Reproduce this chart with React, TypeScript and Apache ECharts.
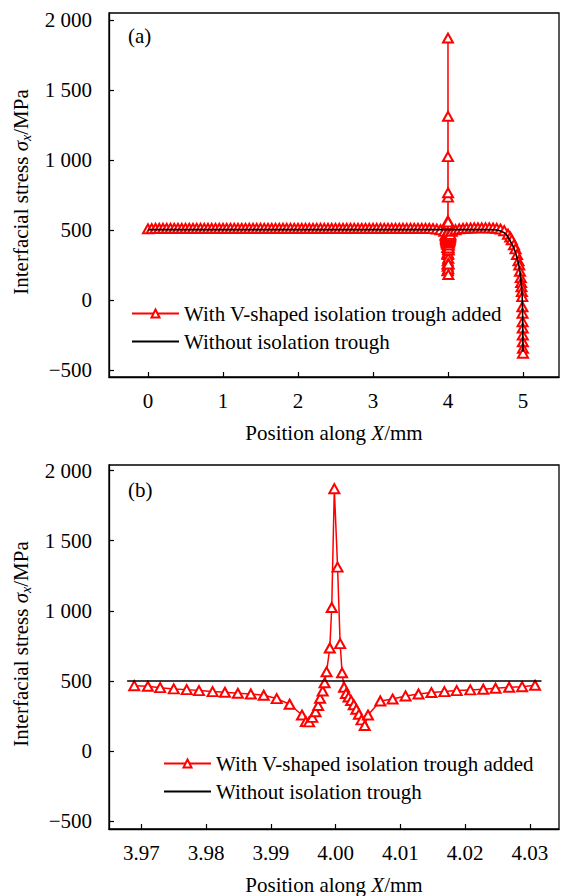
import React, { useEffect, useRef } from 'react';
import * as echarts from 'echarts';

const NAME_WITH = 'With V-shaped isolation trough added';
const NAME_WITHOUT = 'Without isolation trough';

const yTicks = [-500, 0, 500, 1000, 1500, 2000];
const xTicksA = [0, 1, 2, 3, 4, 5];
const xTicksB = [3.97, 3.98, 3.99, 4.0, 4.01, 4.02, 4.03];

// Panel (b): detail around the trough at X = 4 mm
const troughX = [
  3.9689, 3.971, 3.9729, 3.975, 3.977, 3.9789, 3.981, 3.9829, 3.9849, 3.9869,
  3.9889, 3.9909, 3.9929, 3.9948, 3.9954, 3.9959, 3.9964, 3.9969, 3.9973, 3.9976,
  3.998, 3.9983, 3.9986, 3.9991, 3.9994, 3.9998, 4.0003, 4.0007, 4.001, 4.0013,
  4.0016, 4.002, 4.0024, 4.0028, 4.0032, 4.0036, 4.004, 4.0045, 4.005, 4.0069,
  4.0088, 4.0108, 4.0128, 4.0148, 4.0168, 4.0187, 4.0208, 4.0228, 4.0247, 4.0268,
  4.0288, 4.0308,
];
const troughRed = [
  466, 462, 452, 443, 438, 431, 424, 419, 412, 407,
  398, 374, 334, 257, 210, 208, 240, 280, 325, 376,
  428, 487, 565, 735, 1024, 1871, 1312, 766, 558, 455,
  410, 385, 360, 330, 298, 262, 222, 182, 257, 357,
  371, 393, 407, 417, 424, 431, 436, 441, 448, 455,
  459, 469,
];
const troughBlackX = [3.9678, 4.0318];
const troughBlack = [500, 500];

// Panel (a): whole interface 0 - 5 mm
const fullRedLeftX = [
  0, 0.05, 0.1, 0.15, 0.2, 0.25, 0.3, 0.35, 0.4, 0.45, 0.5, 0.55, 0.6, 0.65, 0.7, 0.75,
  0.8, 0.85, 0.9, 0.95, 1.0, 1.05, 1.1, 1.15, 1.2, 1.25, 1.3, 1.35, 1.4, 1.45, 1.5, 1.55,
  1.6, 1.65, 1.7, 1.75, 1.8, 1.85, 1.9, 1.95, 2.0, 2.05, 2.1, 2.15, 2.2, 2.25, 2.3, 2.35,
  2.4, 2.45, 2.5, 2.55, 2.6, 2.65, 2.7, 2.75, 2.8, 2.85, 2.9, 2.95, 3.0, 3.05, 3.1, 3.15,
  3.2, 3.25, 3.3, 3.35, 3.4, 3.45, 3.5, 3.55, 3.6, 3.65, 3.7, 3.75, 3.8, 3.85, 3.9, 3.95,
];
const fullRedLeft = [
  508, 510, 511, 511, 512, 512, 512, 512, 512, 512, 512, 512, 512, 512, 512, 512,
  512, 512, 512, 512, 512, 512, 512, 512, 512, 512, 512, 512, 512, 512, 512, 512,
  512, 512, 512, 512, 512, 512, 512, 512, 512, 512, 512, 512, 512, 512, 512, 512,
  512, 512, 512, 512, 512, 512, 512, 512, 512, 512, 512, 512, 512, 512, 512, 512,
  512, 512, 512, 512, 512, 512, 512, 512, 512, 512, 512, 511, 510, 507, 502, 490,
];
const fullRedRightX = [
  4.05, 4.1, 4.15, 4.2, 4.25, 4.3, 4.35, 4.4, 4.45, 4.5, 4.55, 4.6, 4.65, 4.7, 4.75,
  4.8, 4.83, 4.85, 4.88, 4.9, 4.92, 4.94, 4.95, 4.96, 4.97, 4.975, 4.98, 4.985, 4.99,
  4.992, 4.994, 4.995, 4.996, 4.997, 4.998, 4.999, 5.0,
];
const fullRedRight = [
  490, 502, 508, 511, 513, 514, 515, 515, 515, 515, 515, 514, 512, 507, 495,
  470, 450, 430, 395, 365, 325, 280, 250, 205, 160, 125, 95, 60, 24,
  -48, -95, -155, -200, -250, -298, -345, -380,
];
const fullBlackX = [0, 4.5, 4.6, 4.65, 4.7, 4.75, 4.78, 4.82, 4.87, 4.9, 4.94, 4.96, 4.98, 4.99, 4.995, 5.0];
const fullBlack = [503, 503, 502, 500, 493, 480, 466, 432, 381, 340, 262, 200, 95, 20, -100, -370];

const FONT = "'Times New Roman', 'Liberation Serif', serif";
const FS = 21;
const RED = '#ff0000';

const pairs = (xs: number[], ys: number[]) => xs.map((x, i) => [x, ys[i]]);

const fmtY = (v: number) => {
  const a = Math.abs(v);
  const s = a >= 1000 ? `${Math.floor(a / 1000)} ${String(a % 1000).padStart(3, '0')}` : String(a);
  return v < 0 ? '\u2212' + s : s;
};

const axisCommon = {
  axisLine: { show: true, onZero: false, lineStyle: { color: '#000', width: 1.3 } },
  axisTick: { show: true, inside: true, length: 5, lineStyle: { color: '#000', width: 1.2 } },
  splitLine: { show: false },
};

const yAxisName = (x: number, y: number) => ({
  type: 'text',
  x,
  y,
  rotation: Math.PI / 2,
  silent: true,
  style: {
    text: 'Interfacial stress {i|σ}{sub|x}/MPa',
    align: 'center',
    verticalAlign: 'middle',
    fontFamily: FONT,
    fontSize: FS,
    fill: '#000',
    rich: {
      i: { fontFamily: FONT, fontSize: FS, fontStyle: 'italic', fill: '#000', lineHeight: 24 },
      sub: { fontFamily: FONT, fontSize: 14, fontStyle: 'italic', fill: '#000', lineHeight: 12, verticalAlign: 'bottom' },
    },
  },
});

export default function App() {
  const ref = useRef<HTMLDivElement>(null);
  useEffect(() => {
    document.body.style.margin = '0';
    if (!ref.current) return;
    const chart = echarts.init(ref.current, null, { renderer: 'svg' });
    const redA = [
      ...pairs(fullRedLeftX, fullRedLeft),
      ...pairs(troughX, troughRed),
      ...pairs(fullRedRightX, fullRedRight),
    ];
    const legendCommon = {
      orient: 'vertical',
      itemWidth: 47,
      itemHeight: 10,
      itemGap: 7,
      textStyle: { fontFamily: FONT, fontSize: FS, color: '#000' },
      data: [NAME_WITH, { name: NAME_WITHOUT, itemStyle: { opacity: 0 } }],
      selectedMode: false,
    };
    const redSeries = {
      type: 'line',
      name: NAME_WITH,
      symbol: 'emptyTriangle',
      symbolSize: [10, 9],
      showAllSymbol: true,
      lineStyle: { color: RED, width: 1.5 },
      itemStyle: { color: RED, borderColor: RED, borderWidth: 1.3 },
      z: 2,
    };
    const blackSeries = {
      type: 'line',
      name: NAME_WITHOUT,
      symbol: 'none',
      lineStyle: { color: '#000', width: 1.6 },
      itemStyle: { color: '#000' },
      z: 3,
    };
    const xName = {
      name: 'Position along {i|X}/mm', nameLocation: 'middle', nameGap: 45,
      nameTextStyle: { fontFamily: FONT, fontSize: FS, color: '#000', rich: { i: { fontFamily: FONT, fontSize: FS, fontStyle: 'italic', color: '#000' } } },
    };
    chart.setOption({
      animation: false,
      backgroundColor: '#fff',
      textStyle: { fontFamily: FONT },
      grid: [
        { left: 109, top: 13, width: 450, height: 364, show: true, borderColor: '#000', borderWidth: 1.3, backgroundColor: 'transparent' },
        { left: 109, top: 465, width: 450, height: 364, show: true, borderColor: '#000', borderWidth: 1.3, backgroundColor: 'transparent' },
      ],
      xAxis: [
        {
          type: 'value', gridIndex: 0, min: -0.52, max: 5.48, ...axisCommon,
          axisTick: { ...axisCommon.axisTick, customValues: xTicksA },
          axisLabel: { customValues: xTicksA, fontFamily: FONT, fontSize: FS, color: '#000', margin: 13 },
          ...xName,
        },
        {
          type: 'value', gridIndex: 1, min: 3.965, max: 4.0345, ...axisCommon,
          axisTick: { ...axisCommon.axisTick, customValues: xTicksB },
          axisLabel: { customValues: xTicksB, fontFamily: FONT, fontSize: FS, color: '#000', margin: 13, formatter: (v: number) => v.toFixed(2) },
          ...xName,
        },
      ],
      yAxis: [
        {
          type: 'value', gridIndex: 0, min: -550, max: 2050, ...axisCommon,
          axisTick: { ...axisCommon.axisTick, customValues: yTicks },
          axisLabel: { customValues: yTicks, fontFamily: FONT, fontSize: FS, color: '#000', margin: 17, formatter: fmtY },
        },
        {
          type: 'value', gridIndex: 1, min: -556, max: 2040, ...axisCommon,
          axisTick: { ...axisCommon.axisTick, customValues: yTicks },
          axisLabel: { customValues: yTicks, fontFamily: FONT, fontSize: FS, color: '#000', margin: 17, formatter: fmtY },
        },
      ],
      legend: [
        { ...legendCommon, left: 126, top: 298 },
        { ...legendCommon, left: 158, top: 748 },
      ],
      graphic: [
        { type: 'text', x: 128, y: 36, silent: true, style: { text: '(a)', fontFamily: FONT, fontSize: FS, fill: '#000', verticalAlign: 'middle' } },
        { type: 'text', x: 128, y: 490, silent: true, style: { text: '(b)', fontFamily: FONT, fontSize: FS, fill: '#000', verticalAlign: 'middle' } },
        yAxisName(21, 192),
        yAxisName(21, 644),
      ],
      series: [
        { ...redSeries, xAxisIndex: 0, yAxisIndex: 0, data: redA },
        { ...blackSeries, xAxisIndex: 0, yAxisIndex: 0, data: pairs(fullBlackX, fullBlack) },
        { ...redSeries, xAxisIndex: 1, yAxisIndex: 1, data: pairs(troughX, troughRed) },
        { ...blackSeries, xAxisIndex: 1, yAxisIndex: 1, data: pairs(troughBlackX, troughBlack) },
      ],
    });
    return () => chart.dispose();
  }, []);
  return <div ref={ref} style={{ width: 562, height: 896 }} />;
}
